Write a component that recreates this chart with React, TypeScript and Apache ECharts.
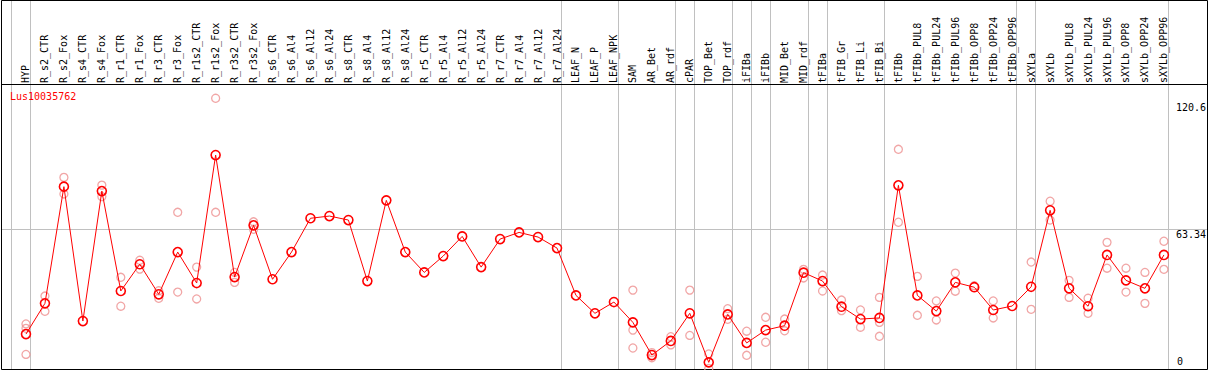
import React, { useEffect, useRef } from "react";
import * as echarts from "echarts";

const title = "Lus10035762";

const categories = [
  "HYP",
  "R_s2_CTR", "R_s2_Fox", "R_s4_CTR", "R_s4_Fox", "R_r1_CTR", "R_r1_Fox", "R_r3_CTR", "R_r3_Fox",
  "R_r1s2_CTR", "R_r1s2_Fox", "R_r3s2_CTR", "R_r3s2_Fox",
  "R_s6_CTR", "R_s6_Al4", "R_s6_Al12", "R_s6_Al24",
  "R_s8_CTR", "R_s8_Al4", "R_s8_Al12", "R_s8_Al24",
  "R_r5_CTR", "R_r5_Al4", "R_r5_Al12", "R_r5_Al24",
  "R_r7_CTR", "R_r7_Al4", "R_r7_Al12", "R_r7_Al24",
  "LEAF_N", "LEAF_P", "LEAF_NPK",
  "SAM", "AR_Bet", "AR_rdf", "cPAR", "TOP_Bet", "TOP_rdf", "iFIBa", "iFIBb", "MID_Bet", "MID_rdf",
  "tFIBa", "tFIB_Gr", "tFIB_Li", "tFIB_Bi",
  "tFIBb", "tFIBb_PUL8", "tFIBb_PUL24", "tFIBb_PUL96", "tFIBb_OPP8", "tFIBb_OPP24", "tFIBb_OPP96",
  "sXYLa",
  "sXYLb", "sXYLb_PUL8", "sXYLb_PUL24", "sXYLb_PUL96", "sXYLb_OPP8", "sXYLb_OPP24", "sXYLb_OPP96",
];

const means = [
  15.8,
  29.7, 82.5, 21.7, 80.5, 35.3, 47.4, 33.8, 52.9,
  38.9, 96.8, 41.6, 65.0,
  40.6, 52.9, 68.2, 69.2,
  67.4, 39.8, 76.3, 52.9,
  43.7, 51.1, 60.0, 46.1,
  58.8, 61.8, 59.7, 54.7,
  33.3, 25.2, 30.3,
  21.1, 6.3, 12.7, 25.2, 3.0, 24.7, 11.8, 17.6, 19.6, 43.6,
  39.8, 28.2, 22.6, 23.1,
  83.1, 33.3, 26.2, 39.2, 37.0, 26.7, 28.5,
  37.2,
  71.8, 36.5, 28.4, 51.6, 40.1, 36.5, 51.6,
];

const replicates: number[][] = [
  [20.4, 18.4, 6.6],
  [33.0, 26.1], [86.7, 79.2], [], [83.2, 78.0], [41.5, 28.4], [49.2, 45.2], [35.4, 32.0], [70.9, 34.8],
  [46.1, 31.7], [122.5, 70.9], [43.7, 39.2], [66.6, 63.2],
  [], [], [], [],
  [], [], [], [],
  [], [], [], [],
  [], [], [], [],
  [], [], [],
  [35.7, 17.6, 9.5], [7.4, 5.1], [14.6, 10.9], [35.7, 15.2], [6.8, 0.2], [27.3, 22.5], [17.1, 6.2], [23.4, 12.1], [22.6, 17.3], [45.1, 41.2],
  [42.5, 35.3], [31.2, 26.4], [26.7, 18.9], [32.4, 21.1, 14.8],
  [99.4, 66.4], [41.9, 24.3], [30.8, 22.2], [43.4, 35.2], [37.7], [30.8, 23.1], [],
  [48.4, 27.0],
  [75.9, 67.4], [40.1, 32.4], [32.0, 25.2], [57.3, 45.6], [45.6, 34.8], [43.7, 29.7], [57.8, 45.1],
];

const yTickLabels = [63.34, 120.6];
const yBottomLabel = [0];
const refLineValue = 63.34;
// index of the last category of each group (separator lines drawn after them)
const groupEnds = [0, 28, 31, 34, 35, 37, 38, 39, 41, 42, 45, 52, 53, 60];

const FONT = "DejaVu Sans Mono";

export default function App() {
  const ref = useRef<HTMLDivElement>(null);

  useEffect(() => {
    if (!ref.current) return;
    const chart = echarts.init(ref.current, null, { renderer: "svg" });

    const repData: [number, number][] = [];
    replicates.forEach((arr, i) => arr.forEach((v) => repData.push([i, v])));

    const axisLabelBase = {
      fontFamily: FONT,
      fontSize: 10,
      color: "#000",
    };

    chart.setOption({
      animation: false,
      title: {
        text: title,
        left: 10,
        top: 91,
        padding: 0,
        textStyle: { fontFamily: FONT, fontSize: 10, fontWeight: "normal", color: "#ff0000" },
      },
      grid: { left: 16.5, width: 1159, top: 85, height: 284 },
      xAxis: {
        type: "category",
        position: "top",
        data: categories,
        boundaryGap: true,
        axisLine: { show: false },
        axisTick: { show: false },
        splitLine: { show: false },
        axisLabel: { ...axisLabelBase, rotate: 90, interval: 0, margin: 2 },
      },
      yAxis: [
        {
          type: "value",
          position: "right",
          min: 0,
          max: 128.5,
          axisLine: { show: false },
          axisTick: { show: false },
          splitLine: { show: false },
          axisLabel: {
            ...axisLabelBase,
            customValues: yTickLabels,
            verticalAlign: "top",
            align: "left",
            margin: 2.5,
            formatter: (v: number) => String(v),
          },
        },
        {
          type: "value",
          position: "right",
          min: 0,
          max: 128.5,
          axisLine: { show: false },
          axisTick: { show: false },
          splitLine: { show: false },
          axisLabel: {
            ...axisLabelBase,
            customValues: yBottomLabel,
            verticalAlign: "bottom",
            align: "left",
            margin: 3.5,
            padding: [0, 0, 3, 0],
            formatter: (v: number) => String(v),
          },
        },
      ],
      series: [
        {
          type: "scatter",
          data: repData,
          symbol: "circle",
          symbolSize: 8,
          z: 2,
          itemStyle: { color: "rgba(0,0,0,0)", borderColor: "#ee9090", borderWidth: 1.3 },
          silent: true,
        },
        {
          type: "line",
          data: means,
          symbol: "circle",
          symbolSize: 9,
          z: 3,
          lineStyle: { color: "#ff0000", width: 1 },
          itemStyle: { color: "rgba(0,0,0,0)", borderColor: "#ff0000", borderWidth: 1.6 },
          silent: true,
        },
      ],
    });

    const px = (i: number) => chart.convertToPixel({ xAxisIndex: 0 }, i) as number;
    const band = px(1) - px(0);
    const yRef = Math.round(chart.convertToPixel({ yAxisIndex: 0 }, refLineValue) as number) + 0.5;
    const gray = "#c0c0c0";
    const sepXs = [px(0) - band + 3.8, ...groupEnds.map((i) => px(i) + 4.3)];

    const elements: any[] = sepXs.map((x) => ({
      type: "line",
      z: 0,
      silent: true,
      shape: { x1: Math.round(x) + 0.5, y1: 0, x2: Math.round(x) + 0.5, y2: 369 },
      style: { stroke: gray, lineWidth: 1 },
    }));
    elements.push({
      type: "line",
      z: 0,
      silent: true,
      shape: { x1: 1.5, y1: yRef, x2: 1207.5, y2: yRef },
      style: { stroke: gray, lineWidth: 1 },
    });
    elements.push({
      type: "line",
      z: 1,
      silent: true,
      shape: { x1: 1, y1: 84.5, x2: 1208, y2: 84.5 },
      style: { stroke: "#000", lineWidth: 1 },
    });
    elements.push({
      type: "rect",
      z: 1,
      silent: true,
      shape: { x: 1.5, y: 0.5, width: 1206, height: 369 },
      style: { stroke: "#000", fill: "none", lineWidth: 1 },
    });
    chart.setOption({ graphic: elements });

    return () => chart.dispose();
  }, []);

  return (
    <div
      ref={ref}
      style={{ position: "absolute", left: 0, top: 0, width: 1209, height: 370, background: "#fff" }}
    />
  );
}
